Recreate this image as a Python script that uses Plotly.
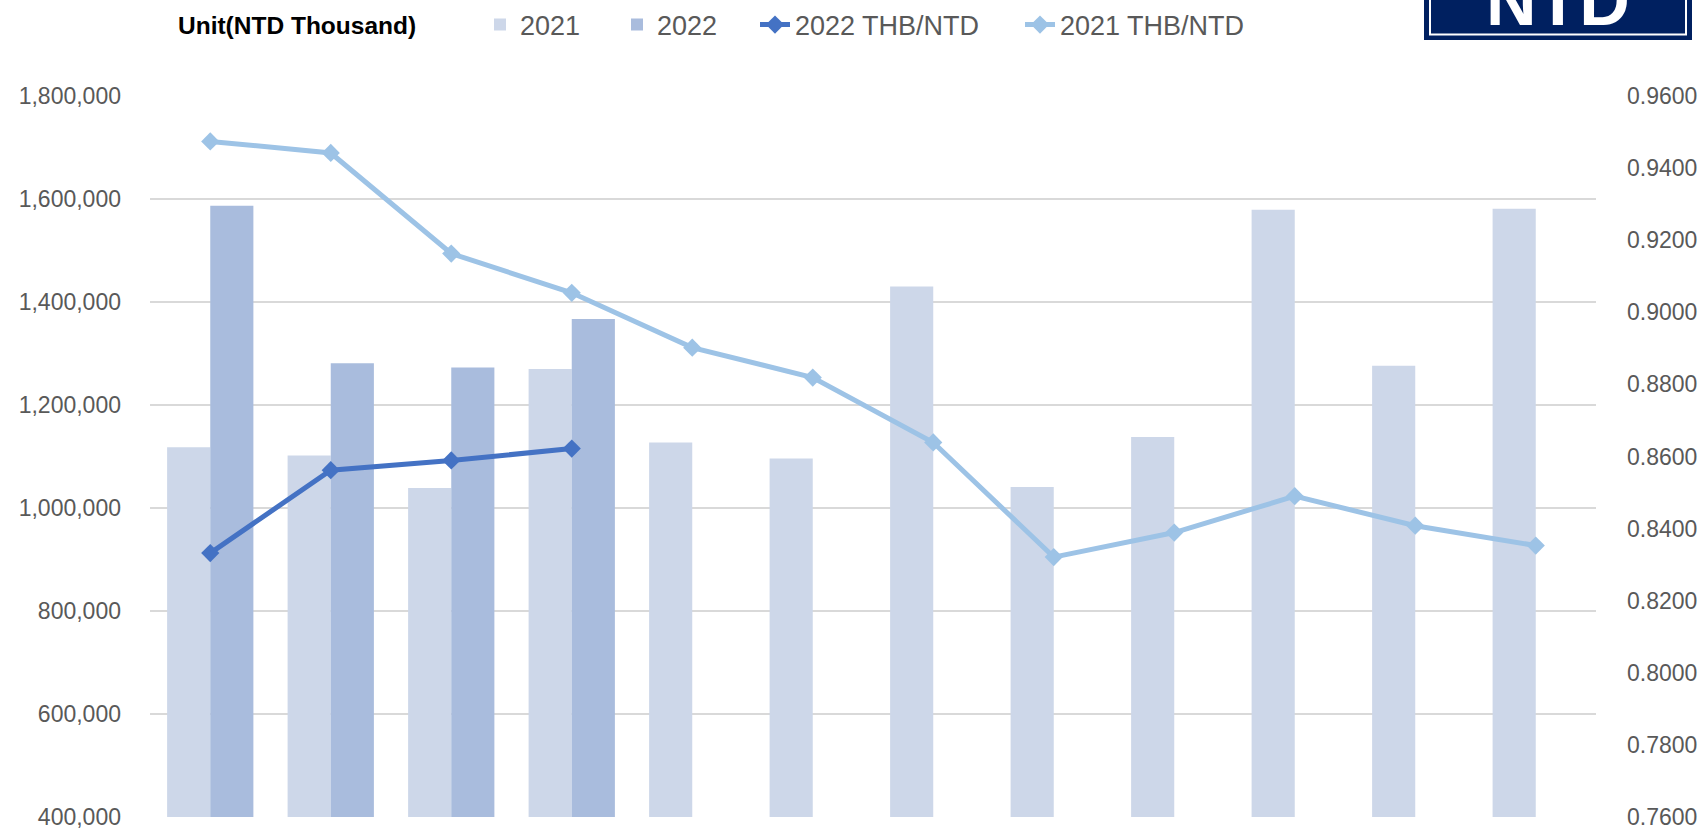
import plotly.graph_objects as go

# ---- data ----
months = ["Jan", "Feb", "Mar", "Apr", "May", "Jun", "Jul", "Aug", "Sep", "Oct", "Nov", "Dec"]
revenue_2021 = [1118000, 1102000, 1039000, 1270000, 1127000, 1096000,
                1430000, 1041000, 1138000, 1579000, 1276000, 1581000]
revenue_2022 = [1587000, 1281000, 1273000, 1367000,
                None, None, None, None, None, None, None, None]
thb_ntd_2022 = [0.8332, 0.8562, 0.8589, 0.8622,
                None, None, None, None, None, None, None, None]
thb_ntd_2021 = [0.9474, 0.9442, 0.9163, 0.9054, 0.8902, 0.8819,
                0.8639, 0.8321, 0.8389, 0.8490, 0.8408, 0.8353]
left_ticks = [400000, 600000, 800000, 1000000, 1200000, 1400000, 1600000, 1800000]
right_ticks = [0.76, 0.78, 0.80, 0.82, 0.84, 0.86, 0.88, 0.90, 0.92, 0.94, 0.96]

FONT = "Liberation Sans, Arial, sans-serif"
GREY = "#595959"
W, H = 1700, 828
ML, MR, MT, MB = 150, 104, 96, 11
PW, PH = W - ML - MR, H - MT - MB


def px_x(x):
    return (x - ML) / PW


def px_y(y):
    return (H - MB - y) / PH


fig = go.Figure()
fig.add_trace(go.Bar(x=months, y=revenue_2021, name="2021",
                     marker=dict(color="#CDD7E9", line=dict(width=0)),
                     legend="legend"))
fig.add_trace(go.Bar(x=months, y=revenue_2022, name="2022",
                     marker=dict(color="#A9BCDD", line=dict(width=0)),
                     legend="legend2"))
fig.add_trace(go.Scatter(x=months, y=thb_ntd_2022, name="2022 THB/NTD", yaxis="y2",
                         mode="lines+markers",
                         line=dict(color="#4472C4", width=5),
                         marker=dict(symbol="diamond", size=14, color="#4472C4"),
                         legend="legend3"))
fig.add_trace(go.Scatter(x=months, y=thb_ntd_2021, name="2021 THB/NTD", yaxis="y2",
                         mode="lines+markers",
                         line=dict(color="#9DC3E6", width=5),
                         marker=dict(symbol="diamond", size=14, color="#9DC3E6"),
                         legend="legend4"))

legend_common = dict(orientation="h", xref="container", yref="container",
                     xanchor="left", yanchor="middle", y=1 - 25 / H,
                     font=dict(family=FONT, size=27, color=GREY),
                     bgcolor="rgba(0,0,0,0)", borderwidth=0)
text_starts = [520, 657, 795, 1060]

fig.update_layout(
    width=W, height=H,
    margin=dict(l=ML, r=MR, t=MT, b=MB, autoexpand=False),
    paper_bgcolor="white", plot_bgcolor="white",
    barmode="group", bargap=0.284, bargroupgap=0,
    showlegend=True,
    font=dict(family=FONT, color=GREY),
    legend=dict(x=(text_starts[0] - 40) / W, **legend_common),
    legend2=dict(x=(text_starts[1] - 40) / W, **legend_common),
    legend3=dict(x=(text_starts[2] - 40) / W, **legend_common),
    legend4=dict(x=(text_starts[3] - 40) / W, **legend_common),
    xaxis=dict(type="category", range=[-0.5, 11.5], showticklabels=False,
               showgrid=False, showline=False, zeroline=False, ticks=""),
    yaxis=dict(range=[400000, 1800000], tickvals=left_ticks, tickformat=",",
               showgrid=True, gridcolor="#D9D9D9", gridwidth=1.5,
               zeroline=False, showline=False, ticks="", automargin=False,
               ticklabelstandoff=28, ticklabeloverflow="allow",
               tickfont=dict(family=FONT, size=23, color=GREY)),
    yaxis2=dict(range=[0.76, 0.96], tickvals=right_ticks, tickformat=".4f",
                overlaying="y", side="right", showgrid=False,
                zeroline=False, showline=False, ticks="", automargin=False,
                ticklabelstandoff=30, ticklabeloverflow="allow",
                tickfont=dict(family=FONT, size=23, color=GREY)),
)

# unit label
fig.add_annotation(text="<b>Unit(NTD Thousand)</b>", xref="paper", yref="paper",
                   x=px_x(176), y=px_y(25), xanchor="left", yanchor="middle",
                   showarrow=False, font=dict(family=FONT, size=24.5, color="black"))

# NTD badge (top right, partly cut off as in the reference)
fig.add_shape(type="rect", xref="paper", yref="paper",
              x0=px_x(1424), x1=px_x(1692), y0=px_y(40), y1=px_y(-20),
              fillcolor="#002060", line=dict(width=0), layer="above")
fig.add_shape(type="rect", xref="paper", yref="paper",
              x0=px_x(1430), x1=px_x(1686), y0=px_y(34.5), y1=px_y(-20),
              fillcolor="rgba(0,0,0,0)", line=dict(color="white", width=2), layer="above")
fig.add_annotation(text="<b>NTD</b>", xref="paper", yref="paper",
                   x=px_x(1558), y=px_y(42), xanchor="center", yanchor="bottom",
                   showarrow=False, font=dict(family=FONT, size=70, color="white"))

fig.write_html("out.html", config={"displayModeBar": False},
               post_script="document.body.style.margin='0px';")
